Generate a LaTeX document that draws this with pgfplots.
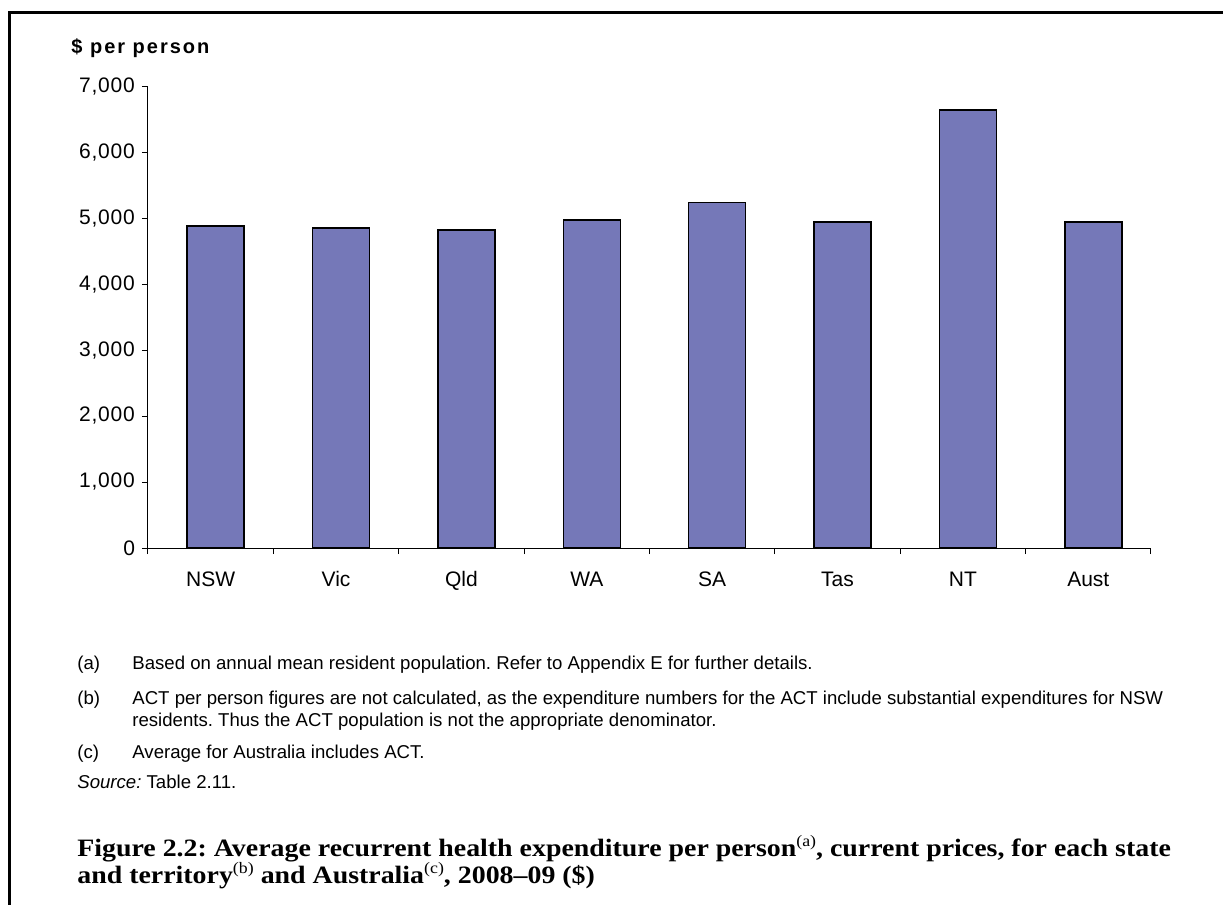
\documentclass[border=0pt]{standalone}
\usepackage{fontspec}
\setmainfont{Liberation Sans}
\newfontfamily\capfont[FakeStretch=1.115,Ligatures=TeX]{Liberation Serif}
\usepackage{pgfplots}
\pgfplotsset{compat=1.18}
\definecolor{barfill}{RGB}{117,120,184}
\begin{document}
\frenchspacing
\begin{tikzpicture}
\path[use as bounding box] (0,0) rectangle (611.5pt,-452.5pt);
\draw[line width=1.5pt] (4.5pt,-452.5pt) -- (4.5pt,-6pt) -- (611.5pt,-6pt);
\begin{axis}[
  at={(74pt,-274pt)}, anchor=south west,
  width=501.5pt, height=231pt, scale only axis,
  xmin=0, xmax=8, ymin=0, ymax=7000,
  axis x line*=bottom, axis y line*=left,
  axis line style={black, line width=0.5pt},
  tick style={black, line width=0.5pt},
  tick align=outside, major tick length=3pt,
  ytick={0,1000,...,7000},
  /pgf/number format/assume math mode=true,
  /pgf/number format/1000 sep={,},
  yticklabel style={font=\fontsize{10.5}{12}\selectfont\addfontfeature{LetterSpace=4}},
  xtick={0,1,...,8}, xticklabels={},
  extra x ticks={0.5,1.5,2.5,3.5,4.5,5.5,6.5,7.5},
  extra x tick labels={NSW,Vic,Qld,WA,SA,Tas,NT,Aust},
  extra x tick style={major tick length=0pt, tick label style={font=\fontsize{10.5}{12}\selectfont, text height=8pt, text depth=2pt, yshift=-7.5pt}},
  clip=false,
]
\addplot[ybar, bar width=28.5pt, bar shift=2.5pt, fill=barfill, draw=black, line width=0.8pt]
  coordinates {(0.5,4877) (1.5,4848) (2.5,4818) (3.5,4970) (4.5,5237) (5.5,4939) (6.5,6636) (7.5,4939)};
\end{axis}
\node[anchor=base west, inner sep=0pt, font=\bfseries\fontsize{10}{12}\selectfont\addfontfeature{LetterSpace=10}] at (35.5pt,-26.5pt) {\$ per person};
\begin{scope}[every node/.style={anchor=base west, inner sep=0pt, font=\fontsize{9.3}{11}\selectfont}]
\node at (38.5pt,-334.5pt) {(a)};
\node at (66pt,-334.5pt) {Based on annual mean resident population. Refer to Appendix E for further details.};
\node at (38.5pt,-352pt) {(b)};
\node at (66pt,-352pt) {ACT per person figures are not calculated, as the expenditure numbers for the ACT include substantial expenditures for NSW};
\node at (66pt,-363pt) {residents. Thus the ACT population is not the appropriate denominator.};
\node at (38.5pt,-379pt) {(c)};
\node at (66pt,-379pt) {Average for Australia includes ACT.};
\node at (38.5pt,-394pt) {\textit{Source:} Table 2.11.};
\end{scope}
\begin{scope}[every node/.style={anchor=base west, inner sep=0pt, font=\capfont\bfseries\fontsize{12.5}{14}\selectfont}]
\node at (38.5pt,-428pt) {Figure 2.2: Average recurrent health expenditure per person\raisebox{0.8ex}{\mdseries\fontsize{8}{8}\selectfont(a)}, current prices, for each state};
\node at (38.5pt,-441.5pt) {and territory\raisebox{0.8ex}{\mdseries\fontsize{8}{8}\selectfont(b)} and Australia\raisebox{0.8ex}{\mdseries\fontsize{8}{8}\selectfont(c)}, 2008\textendash09 (\$)};
\end{scope}
\end{tikzpicture}
\end{document}
